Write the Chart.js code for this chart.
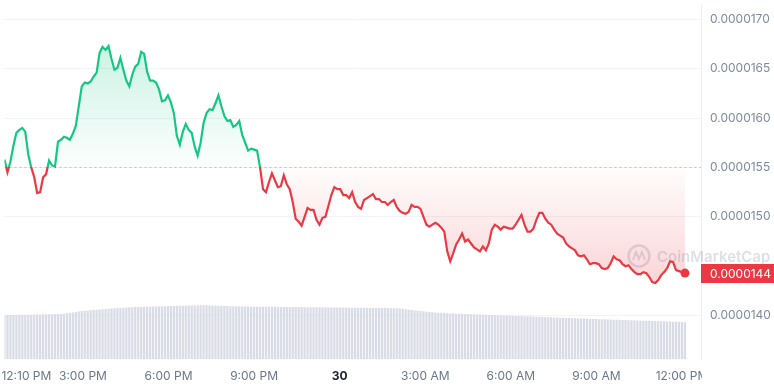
<!DOCTYPE html>
<html>
<head>
<meta charset="utf-8">
<script src="https://cdn.jsdelivr.net/npm/chart.js@4.4.1/dist/chart.umd.min.js"></script>
<style>
  html, body { margin: 0; padding: 0; background: #fff; }
  #chart { display: block; }
</style>
</head>
<body>
<canvas id="chart" width="774" height="386"></canvas>
<script>
// price in units of 1e-7 USD, one reading every stepMinutes
const prices = [
    155.8, 154.5, 155.6, 157.2, 158.5, 158.8, 159.0, 158.6, 156.3, 155.0,
    154.0, 152.4, 152.5, 154.0, 154.3, 155.7, 155.2, 155.1, 157.6, 157.8,
    158.1, 158.0, 157.8, 158.4, 159.2, 161.2, 163.2, 163.6, 163.5, 163.7,
    164.2, 164.6, 166.6, 167.2, 166.9, 167.3, 166.0, 164.9, 165.1, 166.1,
    164.9, 163.8, 163.2, 164.4, 165.2, 165.5, 166.7, 166.5, 164.7, 163.8,
    163.8, 163.6, 162.9, 161.7, 161.8, 162.3, 161.6, 160.5, 158.2, 157.3,
    158.6, 159.4, 158.8, 158.5, 157.1, 156.2, 157.5, 159.5, 160.5, 160.9,
    160.8, 161.5, 162.3, 161.2, 160.2, 159.7, 159.8, 159.1, 159.3, 159.7,
    158.3, 157.5, 156.7, 156.9, 156.8, 156.7, 155.0, 152.8, 152.5, 153.5,
    154.4, 153.7, 153.0, 153.1, 154.2, 153.3, 152.8, 151.5, 149.8, 149.5,
    149.1, 150.0, 150.9, 150.7, 150.7, 149.7, 149.2, 149.9, 150.0, 151.1,
    152.2, 153.0, 152.8, 152.8, 152.2, 152.2, 151.9, 152.5, 151.5, 151.0,
    150.8, 151.7, 151.9, 152.1, 152.3, 151.8, 151.8, 151.5, 151.5, 151.2,
    151.5, 151.7, 151.0, 150.6, 150.4, 150.3, 150.5, 151.2, 151.0, 151.0,
    150.8, 150.0, 149.2, 149.0, 149.2, 149.4, 149.2, 148.9, 148.5, 146.5,
    145.5, 146.3, 147.2, 147.7, 148.3, 147.5, 147.7, 147.3, 146.9, 146.7,
    146.5, 147.0, 146.6, 147.3, 148.7, 149.2, 149.0, 148.7, 149.0, 148.9,
    148.8, 148.8, 149.2, 149.7, 150.2, 149.2, 148.5, 148.5, 148.8, 149.7,
    150.4, 150.4, 149.8, 149.4, 149.2, 148.7, 148.3, 148.1, 147.9, 147.3,
    147.0, 146.8, 146.6, 146.1, 146.0, 146.1, 145.7, 145.2, 145.3, 145.3,
    145.2, 144.8, 144.7, 144.8, 145.3, 146.0, 145.7, 145.6, 145.2, 145.0,
    145.1, 144.7, 144.4, 144.2, 144.2, 144.4, 144.3, 143.9, 143.4, 143.3,
    143.6, 144.1, 144.4, 144.8, 145.5, 145.4, 144.6, 144.5, 144.4, 144.3
];

// rolling volume, same time steps
const volumes = [
    44.0, 44.1, 44.2, 44.2, 44.3, 44.4, 44.4, 44.5, 44.6, 44.6,
    44.7, 44.8, 44.8, 44.9, 45.0, 45.0, 45.1, 45.2, 45.3, 45.4,
    45.6, 45.9, 46.3, 46.8, 47.3, 47.8, 48.2,
    48.5, 48.8, 49.0, 49.3, 49.6, 49.9, 50.1, 50.3, 50.5, 50.8,
    51.0, 51.2, 51.4, 51.6, 51.8, 52.0, 52.1,
    52.2, 52.3, 52.4, 52.5, 52.6, 52.7, 52.8, 52.9, 53.0, 53.1,
    53.2, 53.3, 53.3, 53.4, 53.5, 53.6, 53.6, 53.7, 53.8, 53.8,
    53.9, 53.9, 54.0, 54.0, 54.0,
    53.9, 53.8, 53.7, 53.6, 53.5, 53.4, 53.3, 53.2, 53.1, 53.0,
    52.9, 52.9, 52.8, 52.8, 52.7, 52.7, 52.6, 52.6, 52.6, 52.5, 52.5,
    52.5, 52.5, 52.4, 52.4, 52.4, 52.3, 52.3, 52.3, 52.2, 52.2,
    52.2, 52.1, 52.1, 52.1, 52.0, 52.0, 52.0, 51.9, 51.9, 51.9,
    51.8, 51.8, 51.8, 51.7, 51.7, 51.7, 51.6, 51.6, 51.6, 51.5,
    51.5, 51.5, 51.4, 51.4, 51.4, 51.3, 51.3, 51.3, 51.2, 51.2,
    51.1, 51.1, 51.0, 51.0,
    50.6, 50.1, 49.6, 49.2, 48.8, 48.5, 48.2, 47.9, 47.6, 47.3,
    47.0, 46.8, 46.6, 46.4, 46.2, 46.0, 45.8, 45.7, 45.6, 45.5,
    45.4, 45.3, 45.2, 45.0, 44.9, 44.8, 44.7, 44.5, 44.4, 44.3,
    44.2, 44.0, 43.9, 43.8, 43.7, 43.6, 43.5, 43.4, 43.3, 43.2,
    43.1, 43.0, 42.9, 42.8, 42.6, 42.5, 42.4, 42.2, 42.1,
    42.0, 41.9, 41.8, 41.6, 41.5, 41.4, 41.3, 41.2, 41.0, 40.9,
    40.8, 40.7, 40.6, 40.5, 40.3, 40.2, 40.1, 40.0, 39.9, 39.8, 39.7, 39.6,
    39.5, 39.4, 39.3, 39.2, 39.1, 39.0, 38.9, 38.8, 38.7, 38.6,
    38.5, 38.4, 38.3, 38.2, 38.1, 38.0, 37.9, 37.8, 37.7, 37.6,
    37.5, 37.4, 37.3, 37.1, 37.0
];

const startMinute = 15;     // minutes after 12:00 PM on day one
const stepMinutes = 6.25;
const openPrice = 155;      // dashed reference line

const yTickValues = [140, 150, 155, 160, 165, 170];
const xTickValues = [61, 180, 360, 540, 720, 900, 1080, 1260, 1440];
const xTickLabels = ['12:10 PM', '3:00 PM', '6:00 PM', '9:00 PM', '30', '3:00 AM', '6:00 AM', '9:00 AM', '12:00 PM'];

const UP = '#16c784';
const DOWN = '#ea3943';
const FONT = 'Inter, "Noto Sans", sans-serif';

const timeAt = i => startMinute + i * stepMinutes;
const formatPrice = v => (v * 1e-7).toFixed(7);

function splitAt(chart) {
    const { chartArea, scales } = chart;
    const h = chartArea.bottom - chartArea.top;
    const frac = px => Math.min(1, Math.max(0, (px - chartArea.top) / h));
    return {
        base: frac(scales.y.getPixelForValue(openPrice)),
        high: frac(scales.y.getPixelForValue(Math.max(...prices))),
        low: frac(scales.y.getPixelForValue(Math.min(...prices)))
    };
}

function lineColor(ctx) {
    const chart = ctx.chart;
    if (!chart.chartArea) return UP;
    const { top, bottom } = chart.chartArea;
    const s = splitAt(chart);
    const g = chart.ctx.createLinearGradient(0, top, 0, bottom);
    g.addColorStop(0, UP);
    g.addColorStop(s.base, UP);
    g.addColorStop(s.base, DOWN);
    g.addColorStop(1, DOWN);
    return g;
}

function fillColor(ctx) {
    const chart = ctx.chart;
    if (!chart.chartArea) return 'rgba(0,0,0,0)';
    const { top, bottom } = chart.chartArea;
    const s = splitAt(chart);
    const g = chart.ctx.createLinearGradient(0, top, 0, bottom);
    g.addColorStop(0, 'rgba(22,199,132,0.22)');
    g.addColorStop(s.high, 'rgba(22,199,132,0.22)');
    g.addColorStop(s.base, 'rgba(22,199,132,0.01)');
    g.addColorStop(s.base, 'rgba(234,57,67,0.01)');
    g.addColorStop(s.low, 'rgba(234,57,67,0.21)');
    g.addColorStop(1, 'rgba(234,57,67,0.21)');
    return g;
}

// faint brand watermark
const watermark = {
    id: 'watermark',
    beforeDatasetsDraw(chart) {
        const { ctx, chartArea } = chart;
        const cx = chartArea.right - 62, cy = 256;
        ctx.save();
        ctx.strokeStyle = 'rgba(140,155,180,0.3)';
        ctx.fillStyle = 'rgba(140,155,180,0.3)';
        ctx.lineWidth = 2.5;
        ctx.beginPath();
        ctx.arc(cx, cy, 10.5, 0, Math.PI * 2);
        ctx.stroke();
        ctx.lineWidth = 2;
        ctx.beginPath();
        ctx.moveTo(cx - 6, cy + 4);
        ctx.lineTo(cx - 3, cy - 4);
        ctx.lineTo(cx, cy + 3);
        ctx.lineTo(cx + 3, cy - 4);
        ctx.lineTo(cx + 6, cy + 4);
        ctx.stroke();
        ctx.font = '600 15px ' + FONT;
        ctx.textBaseline = 'middle';
        ctx.fillText('CoinMarketCap', cx + 18, cy + 1);
        ctx.restore();
    }
};

// red tag with the latest price on the right axis
const lastPriceTag = {
    id: 'lastPriceTag',
    afterDraw(chart) {
        const { ctx, chartArea, scales } = chart;
        const last = prices[prices.length - 1];
        const py = Math.round(scales.y.getPixelForValue(last));
        ctx.save();
        // hide the part of the last x label that runs past the plot
        ctx.fillStyle = '#fff';
        ctx.fillRect(chartArea.right + 1, chartArea.bottom + 1, chart.width - chartArea.right, chart.height - chartArea.bottom);
        ctx.fillStyle = DOWN;
        ctx.fillRect(chartArea.right, py - 9, chart.width - chartArea.right, 19);
        ctx.fillStyle = '#fff';
        ctx.font = '12px ' + FONT;
        ctx.textBaseline = 'middle';
        ctx.fillText(formatPrice(last), chartArea.right + 9, py + 1);
        ctx.restore();
    }
};

new Chart(document.getElementById('chart'), {
    data: {
        datasets: [
            {
                type: 'line',
                label: 'Price',
                data: prices.map((p, i) => ({ x: timeAt(i), y: p })),
                borderColor: lineColor,
                backgroundColor: fillColor,
                borderWidth: 2.2,
                tension: 0,
                fill: { value: openPrice },
                pointRadius: ctx => ctx.dataIndex === prices.length - 1 ? 4.5 : 0,
                pointBackgroundColor: DOWN,
                pointBorderColor: DOWN,
                pointBorderWidth: 0,
                pointHoverRadius: 0,
                order: 0
            },
            {
                type: 'line',
                label: 'Open',
                data: [{ x: startMinute, y: openPrice }, { x: 1480, y: openPrice }],
                borderColor: '#bcc2cc',
                borderWidth: 1,
                borderDash: [2, 3],
                pointRadius: 0,
                fill: false,
                order: 1
            },
            {
                type: 'bar',
                label: 'Volume',
                yAxisID: 'yVol',
                data: volumes.map((v, i) => ({ x: timeAt(i), y: v })),
                backgroundColor: '#d9dce6',
                barThickness: 1.6,
                grouped: false,
                order: 2
            }
        ]
    },
    options: {
        responsive: false,
        animation: false,
        devicePixelRatio: 1,
        layout: { padding: 0 },
        plugins: {
            legend: { display: false },
            tooltip: { enabled: false }
        },
        scales: {
            x: {
                type: 'linear',
                offset: false,
                min: startMinute,
                max: 1480,
                afterBuildTicks: s => { s.ticks = xTickValues.map(v => ({ value: v })); },
                afterFit: s => { s.height = 27; s.paddingLeft = 0; s.paddingRight = 0; },
                grid: { display: false, drawTicks: false, offset: false },
                border: { display: false },
                ticks: {
                    autoSkip: false,
                    maxRotation: 0,
                    padding: 10,
                    color: ctx => ctx.tick && ctx.tick.value === 720 ? '#222531' : '#6b768a',
                    font: ctx => ({ family: FONT, size: 12, weight: ctx.tick && ctx.tick.value === 720 ? 'bold' : 'normal' }),
                    callback: (v, i) => xTickLabels[i]
                }
            },
            y: {
                type: 'linear',
                position: 'right',
                min: 135.6,
                max: 171.5,
                afterBuildTicks: s => { s.ticks = yTickValues.map(v => ({ value: v })); },
                afterFit: s => { s.width = 73; s.paddingTop = 0; s.paddingBottom = 0; },
                grid: { color: '#f1f3f6', drawTicks: false },
                border: { display: true, color: '#eceef2' },
                ticks: {
                    padding: 9,
                    color: '#808a9d',
                    font: { family: FONT, size: 12 },
                    callback: v => formatPrice(v)
                }
            },
            yVol: {
                type: 'linear',
                display: false,
                min: 0,
                max: Math.max(...volumes) * 359 / 54
            }
        }
    },
    plugins: [watermark, lastPriceTag]
});
</script>
</body>
</html>
